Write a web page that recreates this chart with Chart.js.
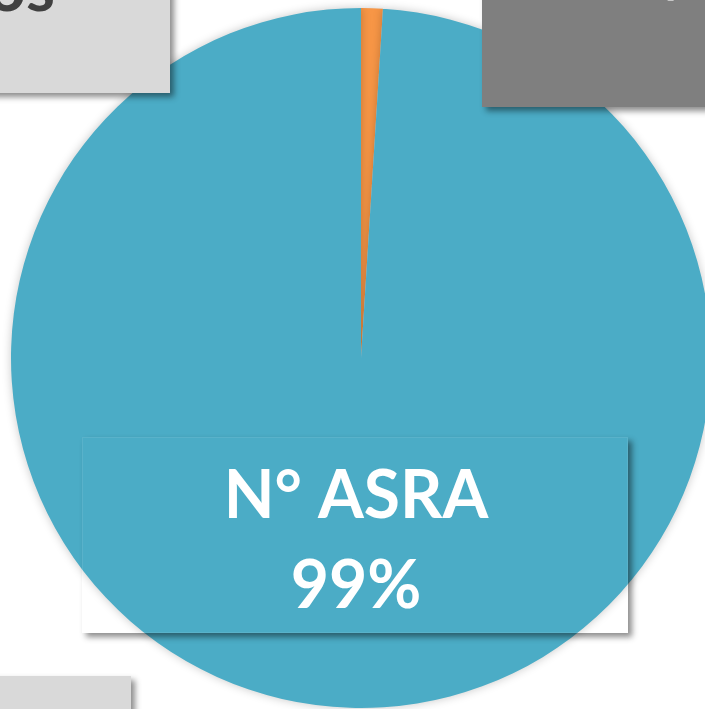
<!DOCTYPE html>
<html>
<head>
<meta charset="utf-8">
<script src="https://cdn.jsdelivr.net/npm/chart.js@4.4.0/dist/chart.umd.min.js"></script>
<style>
  html, body { margin: 0; padding: 0; background: #fff; overflow: hidden; }
  #wrap { position: relative; width: 705px; height: 709px; overflow: hidden; }
  canvas { display: block; }
</style>
</head>
<body>
<div id="wrap"><canvas id="pie" width="722" height="716"></canvas></div>
<script>
// slices, clockwise from 12 o'clock
const categories = ["Otros", "N° ASRA"];
const shares = [1, 99];
const sliceColors = ["#f79646", "#4bacc6"];

// callout boxes (only partly inside the picture)
const calloutText = ["Otros", "1%", "N° ASRA", "99%"];

const FONT = "Lato, 'Open Sans', sans-serif";

function boxShadow(ctx, x, y, w, h) {
  // shadow only, outside the box
  ctx.save();
  ctx.beginPath();
  ctx.rect(-50, -50, 900, 900);
  ctx.rect(x, y, w, h);
  ctx.clip("evenodd");
  ctx.shadowColor = "rgba(0,0,0,0.45)";
  ctx.shadowBlur = 6;
  ctx.shadowOffsetX = 4;
  ctx.shadowOffsetY = 4;
  ctx.fillStyle = "#000";
  ctx.fillRect(x, y, w, h);
  ctx.restore();
}

const pieShadow = {
  id: "pieShadow",
  beforeDatasetsDraw(chart) {
    const ctx = chart.ctx;
    ctx.save();
    ctx.shadowColor = "rgba(0,0,0,0.22)";
    ctx.shadowBlur = 10;
  },
  afterDatasetsDraw(chart) {
    chart.ctx.restore();
  },
};

const callouts = {
  id: "callouts",
  afterDraw(chart) {
    const ctx = chart.ctx;
    ctx.save();
    ctx.textBaseline = "alphabetic";
    ctx.font = "bold 66px " + FONT;

    // top-left light box
    boxShadow(ctx, -30, -40, 200, 133);
    ctx.fillStyle = "#d9d9d9";
    ctx.fillRect(-30, -40, 200, 133);
    ctx.fillStyle = "#404040";
    ctx.textAlign = "right";
    ctx.fillText(calloutText[0], 55, 11);

    // top-right dark box (orange slice)
    boxShadow(ctx, 482, -40, 260, 147);
    ctx.fillStyle = "#7f7f7f";
    ctx.fillRect(482, -40, 260, 147);
    ctx.fillStyle = "#ffffff";
    ctx.textAlign = "left";
    ctx.fillText(calloutText[1], 592, 0);

    // bottom-left light box
    boxShadow(ctx, -30, 676, 161, 60);
    ctx.fillStyle = "#d9d9d9";
    ctx.fillRect(-30, 676, 161, 60);

    // main label box, transparent fill
    boxShadow(ctx, 82, 437, 546, 196);
    ctx.strokeStyle = "rgba(255,255,255,0.08)";
    ctx.lineWidth = 1;
    ctx.strokeRect(82.5, 437.5, 545, 195);
    ctx.fillStyle = "#ffffff";
    ctx.textAlign = "center";
    ctx.fillText(calloutText[2], 356, 518);
    ctx.fillText(calloutText[3], 356, 608);
    ctx.restore();
  },
};

new Chart(document.getElementById("pie"), {
  type: "pie",
  data: {
    labels: categories,
    datasets: [
      {
        data: shares,
        backgroundColor: sliceColors,
        borderWidth: 0,
      },
    ],
  },
  options: {
    responsive: false,
    animation: false,
    rotation: 0,
    layout: { padding: { left: 11, top: 8, right: 11, bottom: 8 } },
    plugins: {
      legend: { display: false },
      tooltip: { enabled: false },
    },
  },
  plugins: [pieShadow, callouts],
});
</script>
</body>
</html>
